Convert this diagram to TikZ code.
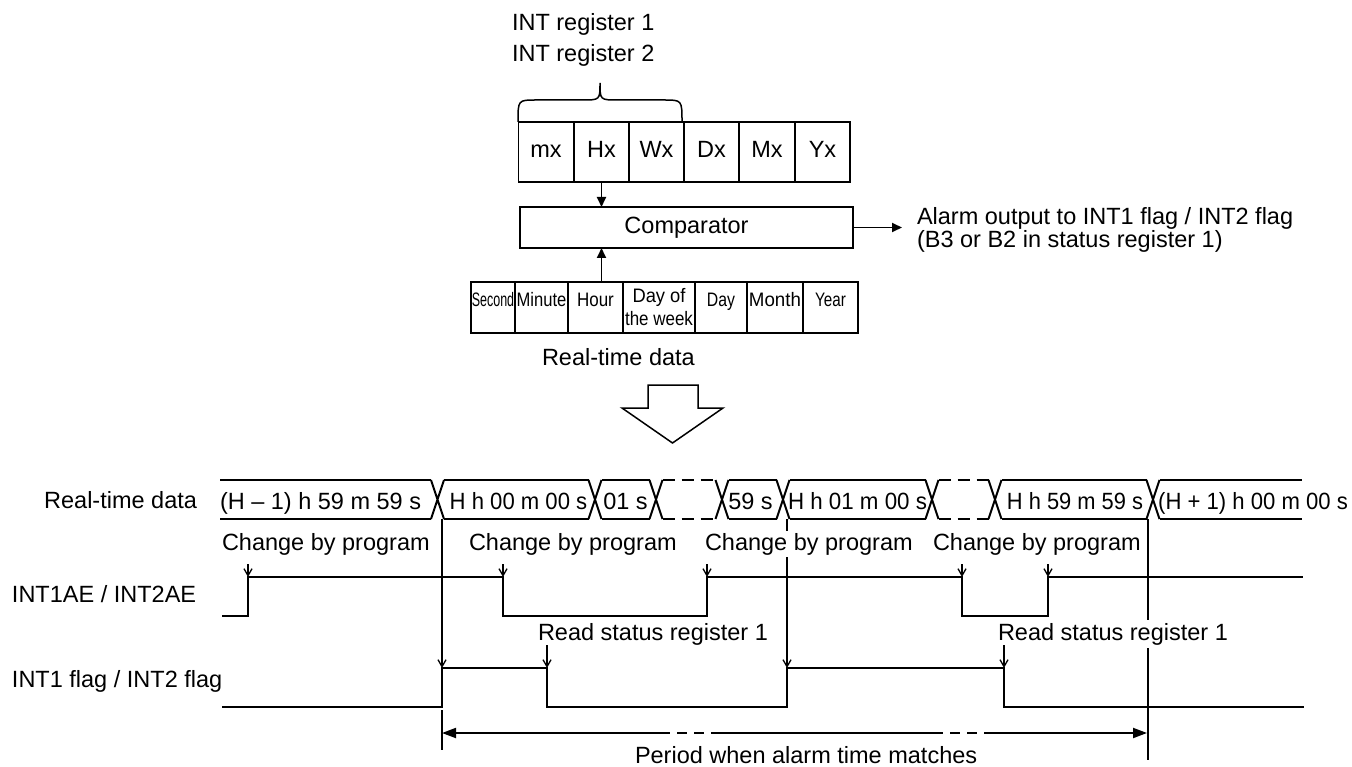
\documentclass[tikz,border=0pt]{standalone}
\usepackage{fontspec}
\setmainfont{Liberation Sans}
\usetikzlibrary{arrows.meta}
\begin{document}
\begin{tikzpicture}[x=1pt,y=-1pt,
  every node/.style={font=\fontsize{23.5}{26}\selectfont, inner sep=0pt, outer sep=0pt},
  lab/.style={anchor=base west},
  cell/.style={draw, line width=1.5pt, minimum height=60pt, minimum width=55.33pt, text height=16.8pt, text depth=6pt},
  rcell/.style={draw, line width=1.5pt, minimum height=51pt, font=\fontsize{19.5}{23}\selectfont, align=center},
  rone/.style={text height=10pt, text depth=11pt},
  sig/.style={line width=2pt},
  bus/.style={line width=2pt},
  busd/.style={line width=2pt, dash pattern=on 12pt off 7pt},
  perd/.style={line width=2pt, dash pattern=on 10pt off 7pt},
  vline/.style={line width=1.3pt},
  varr/.style={line width=1.3pt, -{Straight Barb[length=7pt,width=8pt]}},
  farr/.style={line width=1.8pt, -{Triangle[length=10pt,width=9pt]}},
  parr/.style={line width=2pt, -{Triangle[length=14pt,width=10pt]}},
]
\useasboundingbox (0,0) rectangle (1352,767);

% ---------- top block ----------
\node[lab] (ir1) at (512,30.8) {INT register 1};
\node[lab] (ir2) at (512,61.8) {INT register 2};
\draw[line width=1.5pt] (518,122) .. controls (518,100) .. (536,100) -- (582,100)
  .. controls (600,100) .. (600,83) .. controls (600,100) .. (618,100) -- (664,100)
  .. controls (682,100) .. (682,122);

\node[cell] (mx) at (546,152) {mx};
\node[cell] (Hx) at (601.5,152) {Hx};
\node[cell] (Wx) at (656.5,152) {Wx};
\node[cell] (Dx) at (711.5,152) {Dx};
\node[cell] (Mx) at (767,152) {Mx};
\node[cell] (Yx) at (822.5,152) {Yx};

\node[draw, line width=1.5pt, minimum width=333pt, minimum height=41pt] (cmp) at (686.5,227.5) {Comparator};

\node[rcell, rone, minimum width=44pt] (sec) at (493,307.5) {\scalebox{0.64}[1]{Second}};
\node[rcell, rone, minimum width=53pt] (min) at (541.5,307.5) {\scalebox{0.85}[1]{Minute}};
\node[rcell, rone, minimum width=55pt] (hour) at (595.5,307.5) {\scalebox{0.87}[1]{Hour}};
\node[rcell, minimum width=72pt] (dow) at (659,307.5) {\scalebox{0.94}[1]{Day of}\\\scalebox{0.87}[1]{the week}};
\node[rcell, rone, minimum width=52pt] (day) at (721,307.5) {\scalebox{0.81}[1]{Day}};
\node[rcell, rone, minimum width=56pt] (mon) at (775,307.5) {\scalebox{0.96}[1]{Month}};
\node[rcell, rone, minimum width=55pt] (year) at (830.5,307.5) {\scalebox{0.78}[1]{Year}};
\node[lab] (rtd) at (542,365) {Real-time data};

\draw[farr] (Hx.south) -- (Hx.south |- cmp.north);
\draw[farr] (hour.north -| Hx.south) -- (Hx.south |- cmp.south);
\coordinate (out) at (902,227.5);
\draw[farr] (cmp.east) -- (out);
\node[lab] (al1) at (917,225) {Alarm output to INT1 flag / INT2 flag};
\node[lab] (al2) at (917,248) {(B3 or B2 in status register 1)};

\draw[line width=1.5pt, line join=miter] (648,385) -- (698,385) -- (698,408) -- (723,408)
  -- (672.5,443) -- (622,408) -- (648,408) -- cycle;

% ---------- left labels ----------
\node[anchor=base east] (lrt) at (197,508) {Real-time data};
\node[lab] (lae) at (12,602) {INT1AE / INT2AE};
\node[lab] (lfl) at (12,687) {INT1 flag / INT2 flag};

% ---------- bus ----------
\def\w{6.5}
\foreach \c in {437.5,595,656,722,783,932,995,1153}{
  \draw[bus] (\c-\w,480) -- (\c+\w,519) (\c-\w,519) -- (\c+\w,480);
}
\draw[bus] (220,480) -- (437.5-\w,480) (220,519) -- (437.5-\w,519);
\draw[bus] (437.5+\w,480) -- (595-\w,480) (437.5+\w,519) -- (595-\w,519);
\draw[bus] (595+\w,480) -- (656-\w,480) (595+\w,519) -- (656-\w,519);
\draw[busd] (656+\w,480) -- (722-\w,480) (656+\w,519) -- (722-\w,519);
\draw[bus] (722+\w,480) -- (783-\w,480) (722+\w,519) -- (783-\w,519);
\draw[bus] (783+\w,480) -- (932-\w,480) (783+\w,519) -- (932-\w,519);
\draw[busd] (932+\w,480) -- (995-\w,480) (932+\w,519) -- (995-\w,519);
\draw[bus] (995+\w,480) -- (1153-\w,480) (995+\w,519) -- (1153-\w,519);
\draw[bus] (1153+\w,480) -- (1302,480) (1153+\w,519) -- (1302,519);

\node[lab] (b1) at (220,509) {(H -- 1) h 59 m 59 s};
\node[anchor=base] (b2) at (518.5,509) {\scalebox{0.94}[1]{H h 00 m 00 s}};
\node[anchor=base] (b3) at (625.5,509) {01 s};
\node[anchor=base] (b4) at (750.5,509) {59 s};
\node[anchor=base] (b5) at (857.5,509) {\scalebox{0.95}[1]{H h 01 m 00 s}};
\node[anchor=base] (b6) at (1075,509) {\scalebox{0.93}[1]{H h 59 m 59 s}};
\node[anchor=base] (b7) at (1253,509) {\scalebox{0.94}[1]{(H + 1) h 00 m 00 s}};

% ---------- vertical reference lines ----------
\coordinate (v1t) at (442,519);  \coordinate (v1b) at (442,668);
\coordinate (v2t) at (787,519);  \coordinate (v2b) at (787,668);
\coordinate (v3t) at (1148,519); \coordinate (v3b) at (1148,760);
\draw[varr] (v1t) -- (v1b);
\draw[varr] (v2t) -- (v2b);
\draw[vline] (v3t) -- (v3b);
\draw[vline] (442,710) -- (442,750);

% ---------- INT1AE ----------
\draw[sig] (222,616) -- (248,616) -- (248,577) -- (503,577) -- (503,616) -- (707,616)
  -- (707,577) -- (962,577) -- (962,616) -- (1048,616) -- (1048,577) -- (1303,577);

% ---------- flag ----------
\draw[sig] (222,707) -- (442,707) -- (442,668) -- (547,668) -- (547,707) -- (787,707)
  -- (787,668) -- (1004,668) -- (1004,707) -- (1304,707);

% ---------- annotations ----------
\node[lab] (c1) at (222,550) {Change by program};
\node[lab] (c2) at (469,550) {Change by program};
\node[lab, fill=white, inner ysep=2pt] (c3) at (705,550) {Change by program};
\node[lab] (c4) at (933,550) {Change by program};
\foreach \x in {248,503,707,962,1048}{ \draw[varr] (\x,564) -- (\x,577); }

\node[lab] (r1) at (538,640) {Read status register 1};
\node[lab, fill=white, inner ysep=3pt] (r2) at (998,640) {Read status register 1};
\foreach \x in {547,1004}{ \draw[varr] (\x,645) -- (\x,668); }

% ---------- period ----------
\draw[parr] (660,733) -- (442,733);
\draw[perd] (660,733) -- (718,733);
\draw[line width=2pt] (718,733) -- (933,733);
\draw[perd] (933,733) -- (988,733);
\draw[parr] (988,733) -- (1147,733);
\node[lab] (per) at (635,763) {Period when alarm time matches};
\end{tikzpicture}
\end{document}
